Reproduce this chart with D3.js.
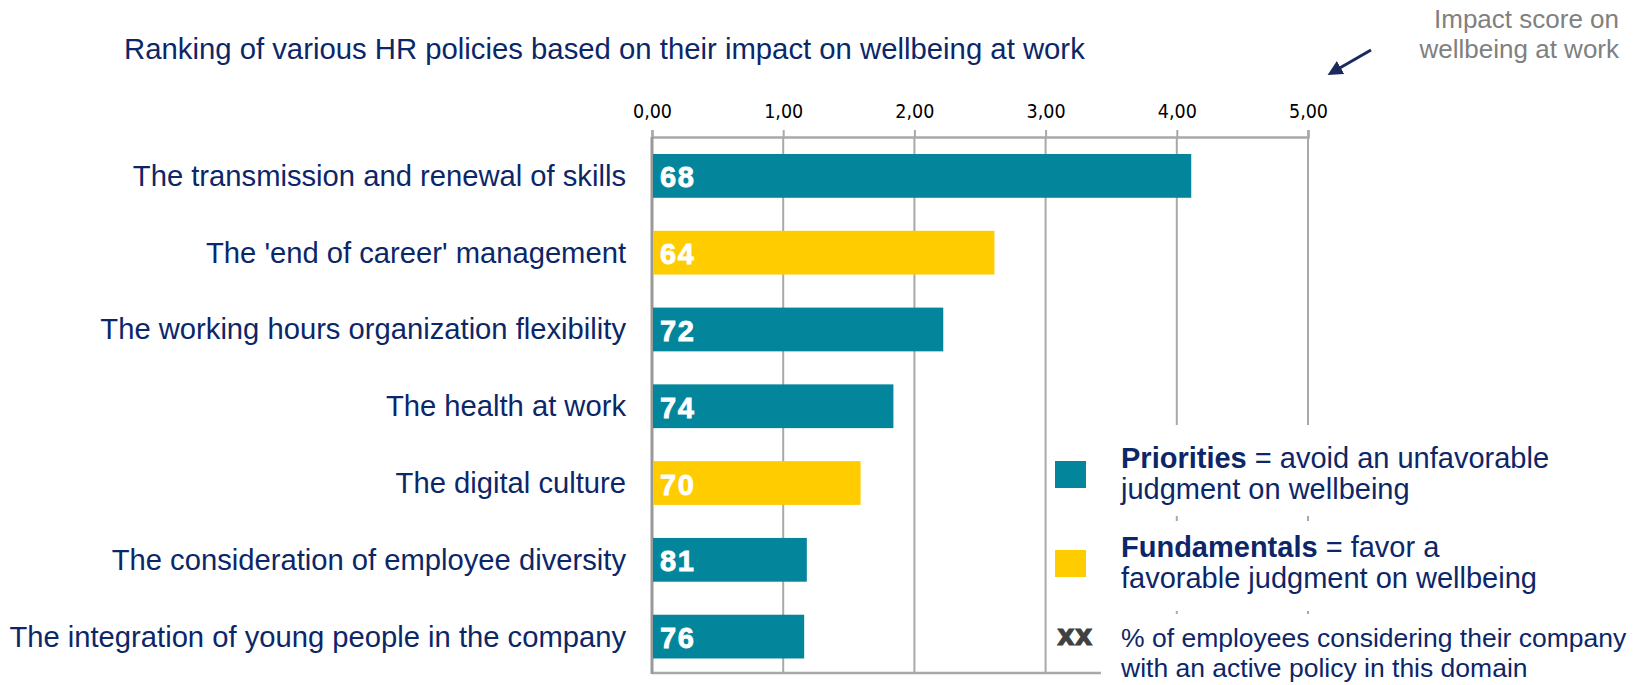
<!DOCTYPE html>
<html>
<head>
<meta charset="utf-8">
<script src="https://cdn.jsdelivr.net/npm/d3@7"></script>
<style>
  body { margin: 0; background: #fff; }
  svg { display: block; font-family: "Liberation Sans", Arial, sans-serif; }
</style>
</head>
<body>
<div id="chart"></div>
<script>
// data
const categories = [
  'The transmission and renewal of skills',
  "The 'end of career' management",
  'The working hours organization flexibility',
  'The health at work',
  'The digital culture',
  'The consideration of employee diversity',
  'The integration of young people in the company'
];
const impactScores = [4.11, 2.61, 2.22, 1.84, 1.59, 1.18, 1.16];
const activePolicyPct = [68, 64, 72, 74, 70, 81, 76];
const policyGroups = ['Priorities', 'Fundamentals', 'Priorities', 'Priorities', 'Fundamentals', 'Priorities', 'Priorities'];
const axisTicks = [0, 1, 2, 3, 4, 5];

const colors = { Priorities: '#03869c', Fundamentals: '#ffcc00' };
const navy = '#0c2768';
const gridColor = '#a9a9a9';

const W = 1643, H = 685;
const svg = d3.select('#chart').append('svg')
  .attr('width', W)
  .attr('height', H);

const x = d3.scaleLinear()
  .domain([0, 5])
  .range([652, 1308]);

const y = d3.scaleBand()
  .domain(categories)
  .range([137.5, 675])
  .paddingInner(0.43)
  .paddingOuter(0.215);

const axisTop = 137, axisBottom = 673;

// title
svg.append('text')
  .attr('x', 124)
  .attr('y', 59)
  .attr('fill', navy)
  .style('font-size', '29.3px')
  .text('Ranking of various HR policies based on their impact on wellbeing at work');

// annotation top right
const note = svg.append('text')
  .attr('text-anchor', 'end')
  .attr('fill', '#808080')
  .style('font-size', '26px');
note.append('tspan').attr('x', 1619).attr('y', 28).text('Impact score on');
note.append('tspan').attr('x', 1619).attr('y', 58).text('wellbeing at work');

svg.append('defs').append('marker')
  .attr('id', 'arrow')
  .attr('viewBox', '0 0 10 10')
  .attr('refX', 2).attr('refY', 5)
  .attr('markerWidth', 5).attr('markerHeight', 5)
  .attr('orient', 'auto')
  .append('path')
  .attr('d', 'M0,0 L10,5 L0,10 z')
  .attr('fill', '#1b2a5e');

svg.append('line')
  .attr('x1', 1371).attr('y1', 50)
  .attr('x2', 1338).attr('y2', 69)
  .attr('stroke', '#1b2a5e')
  .attr('stroke-width', 3)
  .attr('marker-end', 'url(#arrow)');

// gridlines
svg.append('g')
  .selectAll('line')
  .data(axisTicks.filter(d => d > 0))
  .join('line')
  .attr('x1', d => x(d)).attr('x2', d => x(d))
  .attr('y1', axisTop).attr('y2', axisBottom)
  .attr('stroke', gridColor)
  .attr('stroke-width', 2);

// bottom line
svg.append('line')
  .attr('x1', x(0)).attr('x2', x(5))
  .attr('y1', axisBottom).attr('y2', axisBottom)
  .attr('stroke', gridColor)
  .attr('stroke-width', 2.5);

// top axis
const xAxis = d3.axisTop(x)
  .tickValues(axisTicks)
  .tickSize(7)
  .tickPadding(12)
  .tickFormat(d => d3.format('.2f')(d).replace('.', ','));

const gx = svg.append('g')
  .attr('transform', `translate(0,${axisTop})`)
  .call(xAxis);
gx.select('.domain').attr('stroke', gridColor).attr('stroke-width', 2.5);
gx.selectAll('.tick line').attr('stroke', gridColor).attr('stroke-width', 2);
gx.selectAll('.tick text')
  .attr('fill', '#000')
  .style('font-family', '"Liberation Sans Narrow", "DejaVu Sans Condensed", sans-serif')
  .style('font-size', '19.5px');

// left axis line
svg.append('line')
  .attr('x1', x(0)).attr('x2', x(0))
  .attr('y1', axisTop).attr('y2', axisBottom + 1)
  .attr('stroke', '#999')
  .attr('stroke-width', 3);

// bars
svg.append('g')
  .selectAll('rect')
  .data(categories)
  .join('rect')
  .attr('x', x(0) + 1)
  .attr('y', d => y(d))
  .attr('width', (d, i) => x(impactScores[i]) - x(0) - 1)
  .attr('height', y.bandwidth())
  .attr('fill', (d, i) => colors[policyGroups[i]]);

// % labels in bars
svg.append('g')
  .selectAll('text')
  .data(categories)
  .join('text')
  .attr('x', x(0) + 8)
  .attr('y', d => y(d) + y.bandwidth() / 2 + 11.5)
  .attr('fill', '#fff')
  .attr('stroke', '#fff')
  .attr('stroke-width', 0.8)
  .style('font-size', '29px')
  .style('font-weight', 'bold')
  .style('letter-spacing', '1.5px')
  .text((d, i) => activePolicyPct[i]);

// category labels
svg.append('g')
  .selectAll('text')
  .data(categories)
  .join('text')
  .attr('x', 626)
  .attr('y', d => y(d) + y.bandwidth() / 2 + 10)
  .attr('text-anchor', 'end')
  .attr('fill', navy)
  .style('font-size', '29.2px')
  .text(d => d);

// legend, white boxes hide the gridlines behind it
const legendBoxes = [[425, 516], [521, 611], [614, 685]];
svg.append('g')
  .selectAll('rect')
  .data(legendBoxes)
  .join('rect')
  .attr('x', 1101).attr('y', d => d[0])
  .attr('width', W - 1101).attr('height', d => d[1] - d[0])
  .attr('fill', '#fff');

const legendItems = [
  { key: 'Priorities', rest: ' = avoid an unfavorable', line2: 'judgment on wellbeing', y: 468 },
  { key: 'Fundamentals', rest: ' = favor a', line2: 'favorable judgment on wellbeing', y: 557 }
];

const lg = svg.append('g');
legendItems.forEach(it => {
  lg.append('rect')
    .attr('x', 1055).attr('y', it.y - 7)
    .attr('width', 31).attr('height', 27)
    .attr('fill', colors[it.key]);
  const t = lg.append('text')
    .attr('fill', navy)
    .style('font-size', '29px');
  const l1 = t.append('tspan').attr('x', 1121).attr('y', it.y);
  l1.append('tspan').style('font-weight', 'bold').text(it.key);
  l1.append('tspan').text(it.rest);
  t.append('tspan').attr('x', 1121).attr('y', it.y + 31).text(it.line2);
});

lg.append('text')
  .attr('x', 1057).attr('y', 645)
  .attr('fill', '#404040')
  .attr('stroke', '#404040')
  .attr('stroke-width', 0.8)
  .style('font-family', '"DejaVu Sans", sans-serif')
  .style('font-size', '27.5px')
  .style('font-weight', 'bold')
  .text('xx');

const pctNote = lg.append('text')
  .attr('fill', navy)
  .style('font-size', '26.5px');
pctNote.append('tspan').attr('x', 1121).attr('y', 647).text('% of employees considering their company');
pctNote.append('tspan').attr('x', 1121).attr('y', 677).text('with an active policy in this domain');
</script>
</body>
</html>
